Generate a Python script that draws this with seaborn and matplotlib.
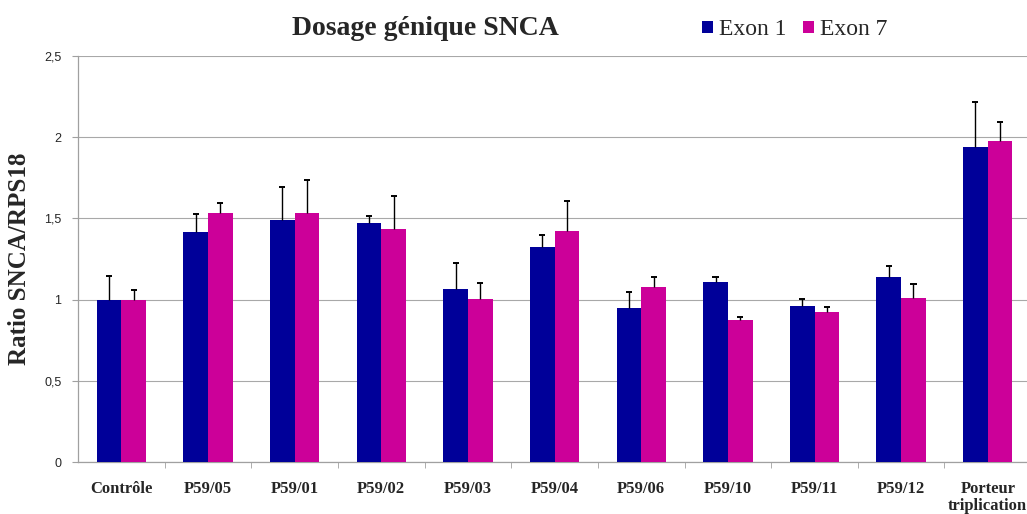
import pandas as pd
import matplotlib.pyplot as plt
import matplotlib.ticker as mticker
import seaborn as sns

# values
samples = ["Contrôle", "P59/05", "P59/01", "P59/02", "P59/03", "P59/04",
           "P59/06", "P59/10", "P59/11", "P59/12", "Porteur\ntriplication"]
exon1 = [1.00, 1.414, 1.49, 1.47, 1.067, 1.324, 0.946, 1.106, 0.961, 1.139, 1.938]
exon1_err = [0.145, 0.113, 0.201, 0.045, 0.16, 0.074, 0.099, 0.031, 0.041, 0.066, 0.281]
exon7 = [1.00, 1.531, 1.531, 1.433, 1.006, 1.422, 1.078, 0.874, 0.926, 1.008, 1.975]
exon7_err = [0.06, 0.062, 0.205, 0.207, 0.094, 0.185, 0.059, 0.021, 0.026, 0.088, 0.119]
series = ["Exon 1", "Exon 7"]
colors = ["#000099", "#CC0099"]

df = pd.DataFrame({
    "sample": samples * 2,
    "exon": [series[0]] * len(samples) + [series[1]] * len(samples),
    "ratio": exon1 + exon7,
})

sns.set_style("white")
plt.rcParams['font.family'] = ['Liberation Serif', 'DejaVu Serif']

fig = plt.figure(figsize=(10.27, 5.14), dpi=100)
ax = fig.add_axes([0.076, 0.101, 0.928, 0.790])

sns.barplot(data=df, x="sample", y="ratio", hue="exon", order=samples,
            hue_order=series, palette=colors, width=0.57, saturation=1,
            errorbar=None, linewidth=0, ax=ax, zorder=3)

# upper error bars only: stem + top cap
cap = 0.035
for cont, errs in zip(ax.containers, [exon1_err, exon7_err]):
    xs = [p.get_x() + p.get_width() / 2 for p in cont.patches]
    ys = [p.get_height() for p in cont.patches]
    tops = [y + e for y, e in zip(ys, errs)]
    ax.vlines(xs, ys, tops, color="black", linewidth=1.0, zorder=4)
    ax.hlines(tops, [x - cap for x in xs], [x + cap for x in xs],
              color="black", linewidth=1.4, zorder=4)

handles, labels = ax.get_legend_handles_labels()
ax.get_legend().remove()
fig.legend(handles, labels, loc="center left", bbox_to_anchor=(0.684, 0.942),
           ncol=2, frameon=False, fontsize=17, handlelength=0.45, handleheight=0.45,
           handletextpad=0.25, columnspacing=0.7, borderpad=0, borderaxespad=0)

fig.text(0.414, 0.945, "Dosage génique SNCA", ha="center", va="center",
         fontsize=20, fontweight="bold")

ax.set_ylim(0, 2.5)
ax.set_xlim(-0.5, len(samples) - 0.5)
ax.yaxis.set_major_locator(mticker.MultipleLocator(0.5))
ax.yaxis.set_major_formatter(mticker.FuncFormatter(
    lambda v, p: f"{v:g}".replace(".", ",")))
ax.grid(axis="y", color="#A8A8A8", linewidth=0.8, zorder=0)
ax.set_axisbelow(True)

for s in ["top", "right"]:
    ax.spines[s].set_visible(False)
for s in ["left", "bottom"]:
    ax.spines[s].set_color("#A0A0A0")
    ax.spines[s].set_linewidth(0.9)

ax.set_xlabel("")
ax.set_ylabel("Ratio SNCA/RPS18", fontsize=18, fontweight="bold")
ax.yaxis.set_label_coords(-0.049, 0.5)

ax.tick_params(axis="y", which="major", left=True, length=4, color="#A0A0A0",
               labelsize=9, pad=8)
for t in ax.get_yticklabels():
    t.set_fontfamily("Liberation Sans")
ax.tick_params(axis="x", which="major", length=0, pad=13.5)
ax.set_xticks(range(len(samples)))
ax.set_xticklabels(samples, fontsize=12, fontweight="bold", linespacing=1.1, va="top")
ax.set_xticks([i + 0.5 for i in range(len(samples) - 1)], minor=True)
ax.tick_params(axis="x", which="minor", bottom=True, length=4, color="#A0A0A0")

fig.savefig("out.png", dpi=100)
